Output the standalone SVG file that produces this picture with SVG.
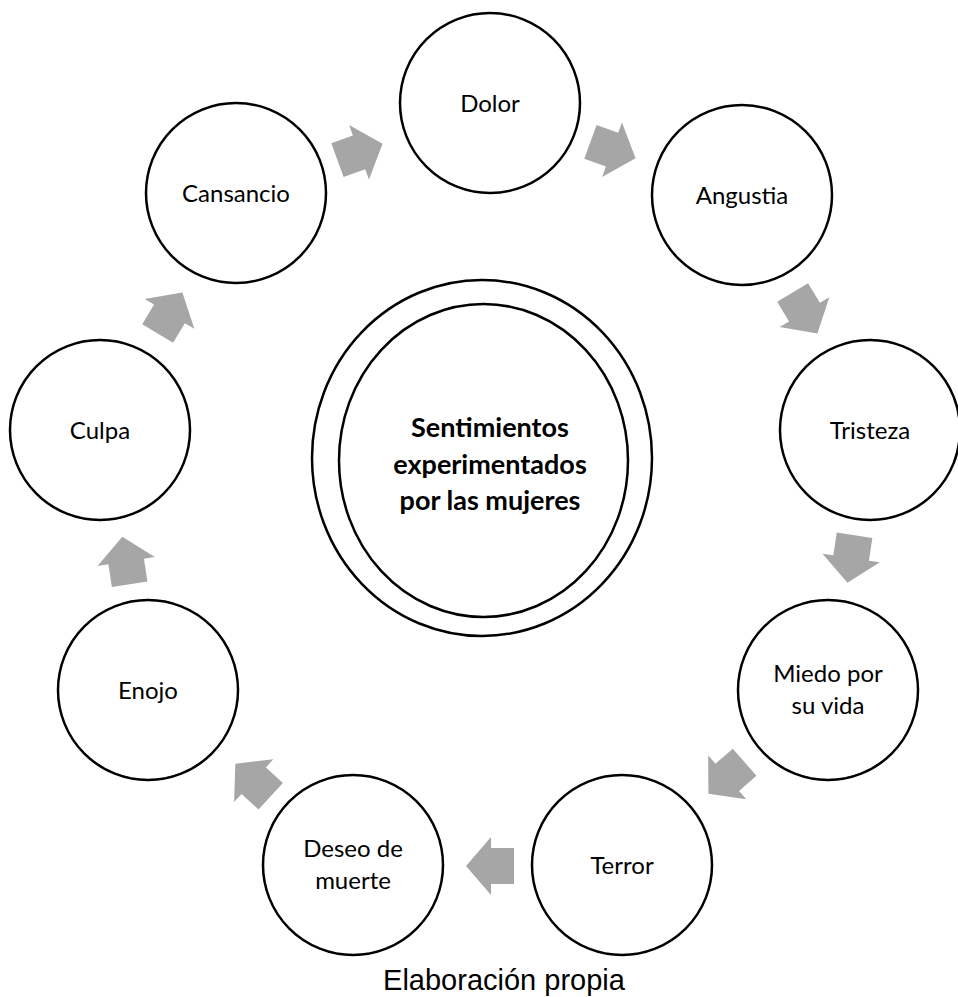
<svg xmlns="http://www.w3.org/2000/svg" xmlns:xlink="http://www.w3.org/1999/xlink" width="958" height="997" viewBox="0 0 958 997">
<style>
.node{fill:#ffffff;stroke:#000000;stroke-width:2.5}
.lbl{font-family:Lato,"Liberation Sans",sans-serif;font-size:24px;fill:#000000;text-anchor:middle}
.ctr{font-family:Lato,"Liberation Sans",sans-serif;font-size:27px;font-weight:bold;fill:#000000;text-anchor:middle}
.cap{font-family:"Liberation Sans",Arial,sans-serif;font-size:29px;fill:#000000;text-anchor:middle}
.arr{fill:#a6a6a6}
</style>
<defs>
<polygon id="arrow" points="-24,-18 -1,-18 -1,-29 24,0 -1,29 -1,18 -24,18"/>
</defs>
<rect width="958" height="997" fill="#ffffff"/>
<g id="connectors" class="arr">
<use xlink:href="#arrow" transform="translate(360,152) rotate(-20)"/>
<use xlink:href="#arrow" transform="translate(613,150) rotate(20)"/>
<use xlink:href="#arrow" transform="translate(805,313) rotate(59)"/>
<use xlink:href="#arrow" transform="translate(851,559) rotate(98.5)"/>
<use xlink:href="#arrow" transform="translate(726.5,778) rotate(139)"/>
<use xlink:href="#arrow" transform="translate(490,866) rotate(180)"/>
<use xlink:href="#arrow" transform="translate(253,780) rotate(-137.5)"/>
<use xlink:href="#arrow" transform="translate(126,560.5) rotate(-98.8)"/>
<use xlink:href="#arrow" transform="translate(170,313) rotate(-59)"/>
</g>
<g id="center">
<ellipse class="node" cx="482" cy="458" rx="170" ry="178"/>
<ellipse class="node" cx="483.5" cy="460.5" rx="144.5" ry="156.5"/>
<text class="ctr" x="490" y="437">Sentimientos</text>
<text class="ctr" x="490" y="474">experimentados</text>
<text class="ctr" x="490" y="510">por las mujeres</text>
</g>
<g id="dolor"><circle class="node" cx="490" cy="103" r="90"/><text class="lbl" x="490" y="112">Dolor</text></g>
<g id="angustia"><circle class="node" cx="742" cy="195" r="90"/><text class="lbl" x="742" y="204">Angustia</text></g>
<g id="tristeza"><circle class="node" cx="870" cy="430" r="90"/><text class="lbl" x="870" y="439">Tristeza</text></g>
<g id="miedo"><circle class="node" cx="828" cy="690" r="90"/><text class="lbl" x="828" y="682">Miedo por</text><text class="lbl" x="828" y="714">su vida</text></g>
<g id="terror"><circle class="node" cx="622" cy="865" r="90"/><text class="lbl" x="622" y="874">Terror</text></g>
<g id="deseo"><circle class="node" cx="353" cy="865" r="90"/><text class="lbl" x="353" y="857">Deseo de</text><text class="lbl" x="353" y="889">muerte</text></g>
<g id="enojo"><circle class="node" cx="148" cy="690" r="90"/><text class="lbl" x="148" y="699">Enojo</text></g>
<g id="culpa"><circle class="node" cx="100" cy="430" r="90"/><text class="lbl" x="100" y="439">Culpa</text></g>
<g id="cansancio"><circle class="node" cx="236" cy="193" r="90"/><text class="lbl" x="236" y="202">Cansancio</text></g>
<text class="cap" x="504" y="990">Elaboración propia</text>
</svg>
